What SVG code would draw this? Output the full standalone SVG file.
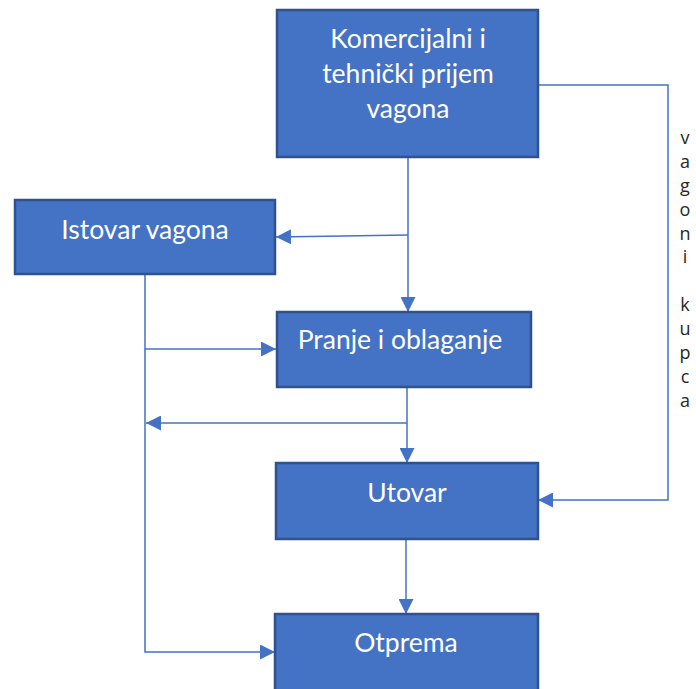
<svg xmlns="http://www.w3.org/2000/svg" width="696" height="689" viewBox="0 0 696 689">
<style>
.box{fill:#4472C4;stroke:#2F528F;stroke-width:2.5}
.lbl{fill:#FFFFFF;font-family:Lato,"Open Sans",sans-serif;font-size:26.5px;text-anchor:middle}
.con{fill:none;stroke:#4472C4;stroke-width:1.5}
.side{fill:#262626;font-family:"Open Sans",sans-serif;font-size:18px;text-anchor:middle}
</style>
<defs>
<marker id="ah" markerUnits="userSpaceOnUse" markerWidth="15" markerHeight="15" viewBox="0 0 15 15" refX="15" refY="7.5" orient="auto">
<path d="M0,0 L15,7.5 L0,15 Z" fill="#4472C4"/>
</marker>
</defs>
<g id="connectors">
<path class="con" d="M408,157 V312" marker-end="url(#ah)"/>
<path class="con" d="M408,235 L276,237" marker-end="url(#ah)"/>
<path class="con" d="M145,274 V652 H275" marker-end="url(#ah)"/>
<path class="con" d="M145,349 H276" marker-end="url(#ah)"/>
<path class="con" d="M407,387 V463" marker-end="url(#ah)"/>
<path class="con" d="M407,423 H146" marker-end="url(#ah)"/>
<path class="con" d="M406,539 V614" marker-end="url(#ah)"/>
<path class="con" d="M538,85 H668 V500 H538" marker-end="url(#ah)"/>
</g>
<g id="n1">
<rect class="box" x="277" y="10" width="261" height="147"/>
<text class="lbl" x="408" y="48">Komercijalni i</text>
<text class="lbl" x="408" y="83">tehnički prijem</text>
<text class="lbl" x="408" y="118">vagona</text>
</g>
<g id="n2">
<rect class="box" x="15" y="200" width="260" height="74"/>
<text class="lbl" x="145" y="239">Istovar vagona</text>
</g>
<g id="n3">
<rect class="box" x="277" y="312" width="254" height="75"/>
<text class="lbl" x="400" y="349">Pranje i oblaganje</text>
</g>
<g id="n4">
<rect class="box" x="276" y="463" width="262" height="76"/>
<text class="lbl" x="407" y="502">Utovar</text>
</g>
<g id="n5">
<rect class="box" x="275" y="614" width="263" height="80"/>
<text class="lbl" x="406" y="652">Otprema</text>
</g>
<g id="side-label">
<text class="side" x="685" y="144">v</text>
<text class="side" x="685" y="168">a</text>
<text class="side" x="685" y="192">g</text>
<text class="side" x="685" y="216">o</text>
<text class="side" x="685" y="240">n</text>
<text class="side" x="685" y="263">i</text>
<text class="side" x="685" y="311">k</text>
<text class="side" x="685" y="335">u</text>
<text class="side" x="685" y="359">p</text>
<text class="side" x="685" y="383">c</text>
<text class="side" x="685" y="407">a</text>
</g>
</svg>
